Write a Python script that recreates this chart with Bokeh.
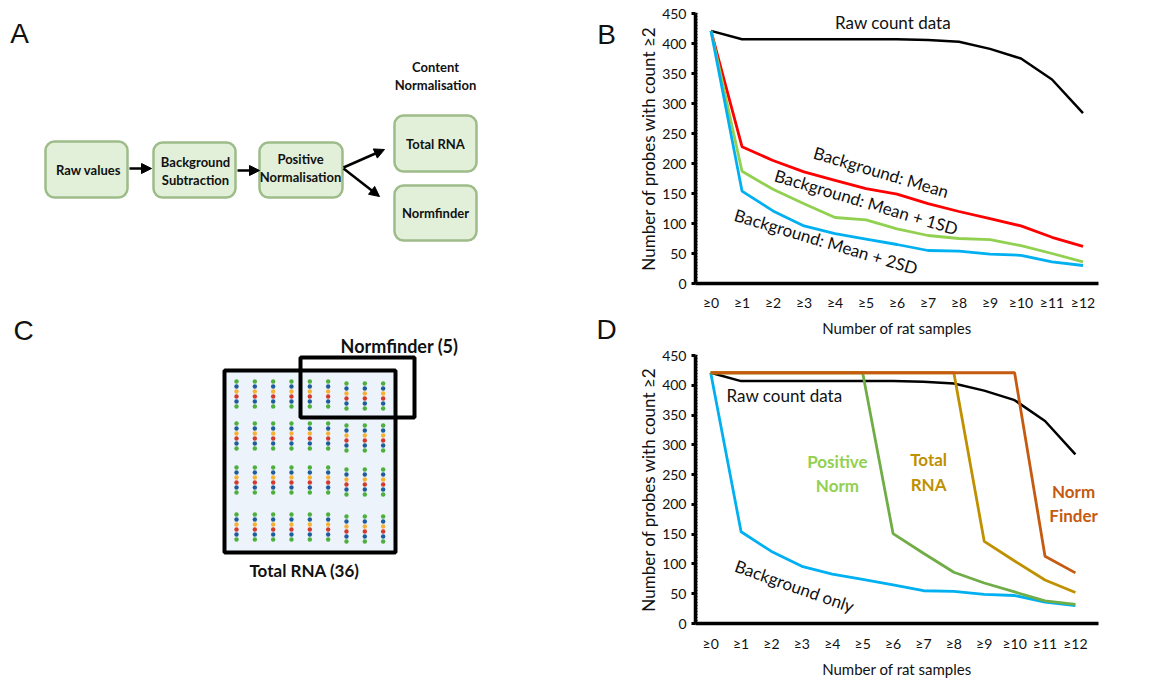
import numpy as np
from bokeh.plotting import figure
from bokeh.layouts import row, column
from bokeh.models import Range1d, FixedTicker, Label, Arrow, NormalHead
from bokeh.core.properties import value
from bokeh.embed import file_html
from bokeh.resources import INLINE

# ---------------- data ----------------
categories = ["≥0", "≥1", "≥2", "≥3", "≥4", "≥5", "≥6", "≥7", "≥8", "≥9", "≥10", "≥11", "≥12"]
y_ticks = [0, 50, 100, 150, 200, 250, 300, 350, 400, 450]

raw_count = [421, 407, 407, 407, 407, 407, 407, 406, 403, 391, 375, 340, 284]
bg_mean = [421, 228, 205, 186, 172, 158, 149, 133, 120, 108, 96, 77, 62]
bg_mean_1sd = [421, 187, 157, 133, 110, 106, 91, 80, 75, 73, 63, 50, 36]
bg_mean_2sd = [421, 154, 121, 96, 83, 74, 65, 55, 54, 49, 47, 36, 30]

background_only = [421, 154, 121, 96, 83, 74, 65, 55, 54, 49, 47, 36, 30]
positive_norm = [421, 421, 421, 421, 421, 421, 151, 118, 86, 68, 53, 38, 32]
total_rna = [421, 421, 421, 421, 421, 421, 421, 421, 421, 138, 105, 73, 52]
norm_finder = [421, 421, 421, 421, 421, 421, 421, 421, 421, 421, 421, 113, 85]

flow_steps = ["Raw values", "Background\nSubtraction", "Positive\nNormalisation", "Total RNA", "Normfinder"]
probe_colors = ["#4DAF3C", "#1F5C9C", "#F6B132", "#D33A2C", "#1F5C9C", "#4DAF3C"]

FONT = "Lato"
LETTER_FONT = "Liberation Sans"

# ---------------- left canvas: panels A and C (+ letters B, D) ----------------
left = figure(width=630, height=680, x_range=Range1d(0, 630), y_range=Range1d(680, 0),
              output_backend="svg", toolbar_location=None, min_border=0,
              x_axis_location=None, y_axis_location=None)
left.grid.visible = False
left.outline_line_color = None

# panel letters
left.text(x=[19, 606, 23, 606], y=[33, 34, 330, 329], text=["A", "B", "C", "D"],
          text_font=value(LETTER_FONT), text_font_size="28px", text_align="center",
          text_baseline="middle", text_color="#111111")

# flow boxes (A)
bx_l = [45, 153, 259, 394, 394]
bx_r = [127, 235, 342, 476, 476]
bx_t = [141, 142, 142, 115, 185]
bx_b = [197, 197, 197, 171, 240]
left.quad(left=bx_l, right=bx_r, top=bx_t, bottom=bx_b, fill_color="#E2F0D9",
          line_color="#9DBC89", line_width=2.5, border_radius=9)

box_text_x = [88, 195, 300, 435, 435]
box_text_y = [169, 170, 167, 143, 212]
lines_x, lines_y, lines_t = [], [], []
for cx, cy, t in zip(box_text_x, box_text_y, flow_steps):
    parts = t.split("\n")
    n = len(parts)
    for k, s in enumerate(parts):
        lines_x.append(cx)
        lines_y.append(cy + (k - (n - 1) / 2) * 18)
        lines_t.append(s)
left.text(x=lines_x, y=lines_y, text=lines_t, text_font=value(FONT), text_font_style="bold",
          text_font_size="13px", text_align="center", text_baseline="middle", text_color="#111111")
left.text(x=[435, 435], y=[66, 84], text=["Content", "Normalisation"], text_font=value(FONT),
          text_font_style="bold", text_font_size="13px", text_align="center",
          text_baseline="middle", text_color="#111111")

arrows = [((129, 168), (151, 168)), ((237, 170), (259, 170)),
          ((343, 167), (384, 149)), ((343, 168), (379, 196))]
for (xs, ys), (xe, ye) in arrows:
    left.add_layout(Arrow(end=NormalHead(size=10, fill_color="black", line_color="black"),
                          x_start=xs, y_start=ys, x_end=xe, y_end=ye,
                          line_width=2.5, line_color="black"))

# panel C schematic
left.quad(left=[224], right=[395], top=[370], bottom=[552], fill_color="#EDF3FB",
          line_color="black", line_width=4)
row_tops = [381, 423, 467, 514]
dx, dy, dc = [], [], []
for r, top in enumerate(row_tops):
    for c in range(9):
        x0 = 236 + c * 18.33
        shift = 2 if c >= 6 else 0
        for k, col in enumerate(probe_colors):
            dx.append(x0)
            dy.append(top + shift + k * 5)
            dc.append(col)
left.scatter(x=dx, y=dy, size=4.4, fill_color=dc, line_color=None)
left.quad(left=[300], right=[414], top=[357], bottom=[417], fill_color=None,
          line_color="black", line_width=4)
left.text(x=[399], y=[345], text=["Normfinder (5)"],
          text_font=value(FONT), text_font_style="bold", text_font_size="18px",
          text_align="center", text_baseline="middle", text_color="#111111")
left.text(x=[304], y=[570], text=["Total RNA (36)"],
          text_font=value(FONT), text_font_style="bold", text_font_size="17px",
          text_align="center", text_baseline="middle", text_color="#111111")


# ---------------- charts B and D ----------------
def make_chart(height, x_end, border_left, border_right, border_top, border_bottom, tick_standoff):
    p = figure(width=533, height=height, x_range=Range1d(-0.5, x_end), y_range=Range1d(0, 450),
               output_backend="svg", toolbar_location=None,
               min_border_left=border_left, min_border_right=border_right,
               min_border_top=border_top, min_border_bottom=border_bottom)
    p.grid.visible = False
    p.outline_line_color = None
    xa = p.xaxis[0]
    xa.ticker = FixedTicker(ticks=list(range(len(categories))))
    xa.major_label_overrides = {i: c for i, c in enumerate(categories)}
    xa.major_tick_line_color = None
    xa.major_tick_out = 0
    xa.major_tick_in = 0
    xa.minor_tick_line_color = None
    xa.axis_line_width = 3.5
    xa.axis_line_color = "black"
    xa.major_label_standoff = tick_standoff
    xa.axis_label = "Number of rat samples"
    xa.axis_label_standoff = 5
    ya = p.yaxis[0]
    ya.ticker = FixedTicker(ticks=y_ticks, minor_ticks=list(range(0, 451, 5)))
    ya.axis_line_width = 3.5
    ya.axis_line_color = "black"
    ya.major_tick_out = 4
    ya.major_tick_in = 0
    ya.major_tick_line_width = 3
    ya.minor_tick_in = 2
    ya.minor_tick_out = 0
    ya.minor_tick_line_width = 1.5
    ya.major_label_standoff = 5
    ya.axis_label = "Number of probes with count ≥2"
    ya.axis_label_standoff = 0
    for ax in (xa, ya):
        ax.major_label_text_font = FONT
        ax.major_label_text_font_size = "14px"
        ax.major_label_text_color = "#111111"
        ax.axis_label_text_font = FONT
        ax.axis_label_text_font_style = "normal"
        ax.axis_label_text_color = "#111111"
    xa.axis_label_text_font_size = "15px"
    ya.axis_label_text_font_size = "17px"
    return p


xs = list(range(len(categories)))

pB = make_chart(340, 12.5, 60, 65, 13, 57, 10)
pB.line(xs, raw_count, line_color="black", line_width=2.5)
pB.line(xs, bg_mean, line_color="#FF0000", line_width=2.8)
pB.line(xs, bg_mean_1sd, line_color="#92D050", line_width=2.8)
pB.line(xs, bg_mean_2sd, line_color="#00B0F0", line_width=2.8)
for x, y, t, a in [(5.87, 435, "Raw count data", 0.0),
                   (5.49, 186, "Background: Mean", -0.29),
                   (5.01, 136, "Background: Mean + 1SD", -0.29),
                   (3.71, 70, "Background: Mean + 2SD", -0.29)]:
    pB.add_layout(Label(x=x, y=y, text=t, angle=a, text_font=FONT, text_font_size="17px",
                        text_align="center", text_baseline="middle", text_color="#111111"))

pD = make_chart(340, 12.76, 65, 65, 15, 55, 11)
pD.line(xs, raw_count, line_color="black", line_width=2.5)
pD.line(xs, background_only, line_color="#00B0F0", line_width=2.8)
pD.line(xs, positive_norm, line_color="#70AD47", line_width=2.8)
pD.line(xs, total_rna, line_color="#BF9000", line_width=2.8)
pD.line(xs, norm_finder, line_color="#C55A11", line_width=2.8)
pD.add_layout(Label(x=2.43, y=382, text="Raw count data", text_font=FONT, text_font_size="17px",
                    text_align="center", text_baseline="middle", text_color="#111111"))
pD.add_layout(Label(x=2.76, y=63, text="Background only", angle=-0.34, text_font=FONT,
                    text_font_size="17px", text_align="center", text_baseline="middle",
                    text_color="#111111"))
for x, y, t, col in [(4.17, 272, "Positive", "#92D050"), (4.17, 231, "Norm", "#92D050"),
                     (7.17, 276, "Total", "#BF9000"), (7.17, 234, "RNA", "#BF9000"),
                     (11.94, 222, "Norm", "#C55A11"), (11.94, 182, "Finder", "#C55A11")]:
    pD.add_layout(Label(x=x, y=y, text=t, text_font=FONT, text_font_style="bold",
                        text_font_size="17px", text_align="center", text_baseline="middle",
                        text_color=col))

layout = row(left, column(pB, pD))
open("out.html", "w").write(file_html(layout, INLINE))
